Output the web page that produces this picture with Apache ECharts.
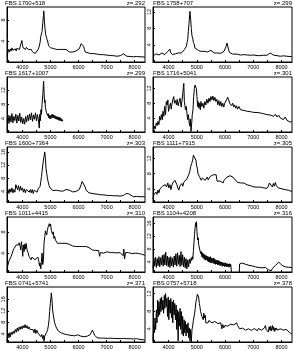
<!DOCTYPE html>
<html><head><meta charset="utf-8">
<script src="https://cdn.jsdelivr.net/npm/echarts@6/dist/echarts.min.js"></script>
<style>html,body{margin:0;padding:0;background:#fff}#c{width:294px;height:351px}</style>
</head><body><div id="c"></div><script>
const names = ["FBS 1700+518","FBS 1758+707","FBS 1617+1007","FBS 1716+5041","FBS 1600+7364","FBS 1111+7915","FBS 1011+4415","FBS 1104+4208","FBS 0741+5741","FBS 0757+5718"];
const redshifts = ["z=.292","z=.299","z=.299","z=.301","z=.303","z=.305","z=.310","z=.316","z=.371","z=.378"];
const xTickLabels = [4000,5000,6000,7000,8000];
const xMinorTicks = [3500,4000,4500,5000,5500,6000,6500,7000,7500,8000];
const xRange = [3450, 8370];
const yRanges = [[0,10.5],[-0.2,13.2],[0.2,15.7],[0.2,15.1],[0.7,17.5],[0.55,15],[0.45,10.8],[0.8,18],[1.15,20.3],[1.0,13.5]];
const yTickLabels = [[4,8],[4,8,12],[4,8,12],[4,8,12],[4,8,12,16],[4,8,12],[4,8],[4,8,12,16],[4,8,12,16],[4,8,12]];

const spec1 = [[3450,1.1],[3485,1.4],[3510,2.4],[3545,1.9],[3570,2.5],[3600,2.1],[3625,2.7],[3660,2.25],[3685,2.6],[3720,2.0],[3745,2.5],[3780,2.1],[3800,2.6],[3835,2.25],[3860,2.7],[3895,2.4],[3920,3.0],[3955,3.6],[3980,4.1],[4000,3.3],[4025,2.7],[4050,3.0],[4070,2.5],[4095,2.9],[4115,2.4],[4140,2.8],[4165,2.5],[4185,3.0],[4210,2.4],[4245,2.6],[4280,2.25],[4315,2.4],[4350,2.0],[4385,1.75],[4420,1.9],[4455,1.6],[4490,1.9],[4525,1.75],[4560,2.4],[4600,3.0],[4630,3.75],[4655,4.9],[4680,4.6],[4700,5.8],[4725,7.4],[4750,8.9],[4760,9.75],[4770,9.25],[4785,7.7],[4805,6.4],[4830,5.2],[4855,4.75],[4880,4.25],[4915,3.6],[4935,3.1],[4970,2.9],[5005,2.7],[5050,2.8],[5100,2.6],[5145,2.5],[5205,2.4],[5265,2.25],[5320,2.4],[5380,2.2],[5440,2.4],[5500,2.6],[5555,2.4],[5615,2.1],[5675,1.9],[5730,2.1],[5790,1.9],[5850,2.0],[5905,2.1],[5965,2.25],[6025,2.5],[6060,3.0],[6095,3.5],[6130,3.75],[6155,3.6],[6180,3.0],[6210,2.4],[6245,1.9],[6295,1.9],[6340,1.75],[6385,1.9],[6435,1.6],[6550,1.6],[6665,1.5],[6785,1.4],[6900,1.4],[7020,1.3],[7135,1.25],[7250,1.2],[7370,1.1],[7485,1.2],[7555,1.4],[7600,1.55],[7650,1.4],[7720,1.1],[7840,1.05],[7955,1.0],[8070,1.05],[8190,1.0],[8365,0.95]];

const spec2 = [[3450,1.2],[3485,1.6],[3520,1.2],[3555,1.8],[3590,1.45],[3625,2.0],[3660,1.5],[3695,1.8],[3730,1.35],[3765,2.0],[3800,1.6],[3835,2.15],[3870,1.6],[3905,2.0],[3940,1.75],[3975,2.4],[4010,2.65],[4050,2.95],[4070,2.15],[4105,2.4],[4140,1.6],[4175,2.0],[4210,1.35],[4245,1.8],[4280,2.15],[4315,1.6],[4350,2.0],[4385,1.75],[4420,2.15],[4455,2.0],[4490,2.4],[4525,2.0],[4560,2.8],[4600,3.2],[4630,3.6],[4655,4.55],[4680,5.35],[4700,7.2],[4725,9.2],[4750,11.6],[4760,12.15],[4770,11.2],[4785,10.0],[4805,8.0],[4830,6.15],[4855,5.6],[4880,4.55],[4915,4.0],[4935,3.2],[4970,2.95],[5005,2.8],[5050,2.65],[5100,2.8],[5145,2.4],[5205,2.25],[5265,2.4],[5320,2.15],[5380,2.25],[5440,2.4],[5500,2.65],[5555,2.25],[5615,2.0],[5675,1.85],[5730,2.0],[5790,1.75],[5850,1.9],[5905,2.15],[5965,2.4],[6000,2.8],[6035,3.6],[6070,4.4],[6095,4.0],[6120,2.95],[6155,2.15],[6200,1.85],[6260,1.75],[6320,1.6],[6435,1.7],[6550,1.5],[6665,1.6],[6785,1.5],[6900,1.45],[7020,1.5],[7135,1.35],[7250,1.35],[7370,1.45],[7485,1.45],[7555,1.75],[7600,2.0],[7650,1.6],[7720,1.45],[7840,1.35],[7955,1.2],[8070,1.3],[8190,1.2],[8365,1.1]];

const spec3 = [[3450,3.2],[3485,5.0],[3520,2.6],[3555,4.8],[3590,3.0],[3625,5.4],[3660,2.8],[3695,4.6],[3730,3.4],[3765,5.2],[3800,2.7],[3835,4.9],[3870,3.3],[3905,5.5],[3940,2.9],[3975,4.4],[4010,2.5],[4045,4.0],[4080,2.4],[4115,4.6],[4150,3.0],[4185,5.0],[4220,3.4],[4255,5.3],[4290,3.6],[4325,5.6],[4360,3.2],[4395,5.0],[4430,3.8],[4465,5.6],[4500,3.3],[4535,5.1],[4570,3.6],[4600,1.3],[4620,5.2],[4640,3.4],[4660,6.5],[4680,5.2],[4700,8.0],[4715,9.5],[4730,11.0],[4745,13.3],[4755,14.5],[4765,13.0],[4775,10.8],[4790,8.5],[4805,9.2],[4820,7.0],[4840,7.5],[4860,5.6],[4880,6.0],[4900,4.8],[4920,5.4],[4940,4.2],[4960,5.0],[4980,3.9],[5000,4.8],[5020,4.0],[5040,5.1],[5060,4.3],[5080,5.2],[5100,4.2],[5120,5.0],[5140,4.1],[5160,4.8],[5180,3.9],[5200,4.6],[5220,3.8],[5240,4.5],[5260,3.7],[5280,4.4],[5300,3.5],[5320,4.3],[5340,3.4],[5360,4.2],[5380,3.3],[5400,3.9],[5420,3.2],[5440,3.6]];

const spec4 = [[3450,0.45],[3485,1.05],[3510,1.8],[3530,1.05],[3565,2.65],[3600,1.95],[3625,3.1],[3660,2.2],[3685,4.45],[3720,3.4],[3745,4.9],[3780,3.55],[3800,5.8],[3835,4.45],[3860,7.1],[3895,4.9],[3920,8.45],[3955,7.55],[3975,8.9],[4000,5.8],[4035,7.1],[4070,8.0],[4095,6.4],[4115,7.55],[4150,8.9],[4185,9.8],[4210,8.0],[4245,8.7],[4280,7.55],[4305,9.05],[4340,7.3],[4375,8.45],[4410,9.35],[4445,6.95],[4480,8.9],[4505,10.7],[4525,12.3],[4540,13.35],[4560,8.45],[4600,6.2],[4630,7.1],[4655,4.9],[4680,3.55],[4700,4.9],[4725,3.1],[4750,1.8],[4770,3.75],[4795,0.35],[4820,2.65],[4840,4.9],[4865,6.2],[4890,9.8],[4915,12.0],[4935,12.9],[4960,13.35],[4985,12.0],[5005,9.8],[5030,7.1],[5050,8.45],[5075,6.65],[5100,8.0],[5125,6.2],[5145,8.45],[5180,7.1],[5215,8.0],[5250,6.65],[5285,8.45],[5320,7.55],[5355,9.05],[5395,8.0],[5430,9.35],[5465,8.45],[5500,9.8],[5535,8.9],[5570,9.95],[5605,8.7],[5640,9.6],[5675,8.45],[5710,9.05],[5745,7.55],[5780,8.7],[5815,7.3],[5850,8.45],[5885,7.1],[5920,8.0],[5955,6.95],[5990,8.0],[6025,8.45],[6060,9.05],[6095,9.6],[6130,8.9],[6165,8.0],[6200,8.45],[6235,7.3],[6270,8.0],[6305,6.95],[6340,7.55],[6375,6.65],[6410,7.3],[6445,6.4],[6490,7.1],[6550,6.2],[6610,6.65],[6670,6.05],[6725,6.4],[6785,5.8],[6845,6.2],[6900,5.7],[6960,6.05],[7020,5.5],[7075,5.9],[7135,5.5],[7195,5.7],[7250,5.35],[7310,5.6],[7370,5.15],[7430,5.5],[7485,4.9],[7545,5.35],[7600,4.8],[7660,5.15],[7720,4.45],[7780,5.0],[7840,4.25],[7895,4.8],[7955,4.0],[8015,4.45],[8070,3.55],[8130,4.25],[8190,3.4],[8245,3.75],[8305,2.85],[8365,3.1]];

const spec5 = [[3450,3.5],[3485,4.5],[3520,3.3],[3555,4.7],[3590,3.7],[3625,5.0],[3660,3.5],[3695,4.5],[3730,3.7],[3765,6.0],[3800,6.5],[3825,4.5],[3860,5.7],[3895,4.0],[3930,5.5],[3965,4.3],[4000,5.0],[4035,3.7],[4070,4.7],[4105,3.5],[4140,4.5],[4175,4.0],[4210,5.0],[4245,3.7],[4280,4.5],[4315,3.5],[4350,4.5],[4385,3.3],[4420,4.3],[4455,3.7],[4490,4.5],[4525,3.7],[4560,4.7],[4600,4.3],[4630,5.5],[4655,7.0],[4680,8.5],[4700,10.0],[4725,12.0],[4750,13.5],[4770,14.5],[4795,16.0],[4820,14.0],[4840,11.0],[4865,9.5],[4890,8.0],[4915,7.0],[4950,5.7],[4985,5.0],[5030,4.5],[5090,4.2],[5145,4.0],[5205,4.3],[5265,3.9],[5320,4.1],[5380,3.8],[5440,4.0],[5500,4.3],[5555,4.5],[5615,4.7],[5675,4.3],[5730,4.0],[5790,3.8],[5850,3.7],[5905,3.9],[5965,4.1],[6025,4.5],[6060,5.0],[6095,6.0],[6130,7.0],[6165,7.3],[6200,6.5],[6235,5.3],[6270,4.3],[6315,3.7],[6375,3.5],[6435,3.4],[6550,3.2],[6665,3.1],[6785,2.9],[6900,2.9],[7020,2.7],[7135,2.7],[7250,2.6],[7370,2.6],[7485,2.5],[7600,2.7],[7700,3.3],[7745,3.7],[7790,3.2],[7840,2.7],[7955,2.3],[8070,2.4],[8190,2.3],[8365,2.3]];

const spec6 = [[3450,1.4],[3485,2.55],[3520,2.1],[3555,3.15],[3590,2.55],[3625,3.65],[3660,2.95],[3695,4.0],[3745,4.25],[3790,4.7],[3835,4.25],[3885,5.1],[3930,4.5],[3975,5.55],[4010,4.25],[4050,5.1],[4085,3.8],[4115,4.85],[4150,5.55],[4185,6.0],[4225,6.25],[4260,6.6],[4295,5.1],[4330,4.25],[4365,3.65],[4400,4.7],[4435,4.25],[4470,5.4],[4505,4.7],[4540,5.7],[4575,5.4],[4610,6.0],[4645,6.6],[4680,6.85],[4715,7.7],[4750,8.55],[4785,9.85],[4820,10.7],[4855,11.55],[4880,12.85],[4900,13.3],[4925,12.4],[4950,13.1],[4970,11.55],[4995,10.0],[5020,9.4],[5040,8.1],[5065,8.55],[5090,7.25],[5125,6.85],[5160,6.25],[5195,6.85],[5230,6.4],[5265,6.85],[5300,6.25],[5335,6.6],[5370,7.1],[5405,6.4],[5440,6.85],[5475,7.25],[5510,6.85],[5545,7.45],[5580,7.7],[5615,8.15],[5650,7.45],[5685,7.7],[5720,6.0],[5755,6.25],[5790,5.55],[5825,6.05],[5860,5.7],[5895,6.0],[5930,5.55],[5965,6.25],[6000,6.0],[6035,6.6],[6070,7.1],[6105,6.85],[6140,7.25],[6175,7.45],[6210,7.95],[6245,7.7],[6280,7.1],[6315,7.25],[6350,6.4],[6385,6.25],[6420,6.0],[6455,5.7],[6490,6.0],[6550,5.55],[6610,5.4],[6665,5.55],[6725,5.1],[6785,5.05],[6845,4.7],[6900,4.85],[6960,4.5],[7020,4.5],[7075,4.7],[7135,4.45],[7195,4.6],[7250,4.45],[7310,4.6],[7370,4.25],[7430,4.45],[7485,4.15],[7535,4.7],[7570,5.55],[7605,5.1],[7640,5.7],[7675,4.5],[7710,5.4],[7745,4.7],[7780,5.7],[7815,4.85],[7850,5.1],[7885,4.25],[7920,4.7],[7955,4.45],[8015,4.0],[8070,4.25],[8130,3.8],[8190,4.1],[8245,3.65],[8305,3.8],[8365,3.3]];

const spec7 = [[3450,0.6],[3475,1.55],[3500,2.15],[3530,2.65],[3565,2.9],[3600,3.4],[3635,4.0],[3670,4.5],[3705,4.9],[3745,5.25],[3780,5.55],[3815,5.35],[3835,5.85],[3860,5.55],[3885,5.95],[3920,5.25],[3940,4.6],[3965,6.15],[3990,5.1],[4010,3.4],[4035,5.55],[4060,4.3],[4085,5.7],[4105,4.75],[4130,5.85],[4165,4.6],[4200,4.1],[4235,3.4],[4270,3.1],[4305,2.75],[4340,3.25],[4375,3.5],[4410,3.1],[4445,2.75],[4480,3.1],[4515,2.9],[4550,3.25],[4585,2.45],[4610,1.55],[4630,2.15],[4655,1.05],[4680,0.8],[4700,4.0],[4725,1.85],[4750,2.75],[4770,5.85],[4795,7.1],[4820,8.2],[4840,8.45],[4865,7.4],[4890,8.3],[4915,8.9],[4935,9.25],[4960,9.55],[4985,9.05],[5005,9.45],[5030,8.3],[5055,8.6],[5075,7.55],[5100,8.0],[5125,6.75],[5145,7.2],[5180,6.45],[5215,6.15],[5250,5.85],[5285,5.95],[5335,5.85],[5380,6.05],[5440,5.85],[5500,5.65],[5555,5.85],[5615,5.55],[5675,5.65],[5730,5.5],[5790,5.35],[5850,5.5],[5905,5.25],[5965,5.35],[6025,5.25],[6080,5.1],[6140,5.25],[6200,5.05],[6260,5.25],[6315,4.9],[6375,5.05],[6435,4.75],[6490,4.6],[6550,4.75],[6610,4.5],[6665,4.3],[6715,4.5],[6750,3.4],[6785,4.1],[6845,4.25],[6900,4.0],[6960,4.2],[7020,4.25],[7075,4.0],[7135,4.1],[7195,3.95],[7250,4.1],[7310,3.9],[7370,4.05],[7430,3.9],[7485,4.1],[7545,3.9],[7590,3.5],[7615,4.75],[7640,2.9],[7675,4.1],[7720,3.9],[7780,4.1],[7840,4.0],[7895,3.9],[7955,3.7],[8015,4.0],[8070,3.75],[8130,3.95],[8190,3.7],[8245,3.8],[8305,3.5],[8365,3.6]];

const spec8 = [[3450,2.0],[3480,5.2],[3510,2.6],[3540,5.5],[3570,2.2],[3600,5.0],[3630,2.8],[3660,5.6],[3690,2.4],[3720,5.3],[3750,3.0],[3780,6.0],[3810,2.6],[3840,6.3],[3870,3.0],[3900,7.0],[3930,2.8],[3960,5.8],[3990,2.5],[4020,5.4],[4050,2.2],[4080,5.6],[4110,2.7],[4140,5.2],[4170,2.3],[4200,5.8],[4230,3.0],[4260,6.5],[4290,2.6],[4320,6.8],[4350,3.2],[4380,6.0],[4410,2.5],[4440,7.2],[4470,2.9],[4500,6.2],[4530,2.4],[4560,5.5],[4590,2.1],[4620,5.0],[4650,1.8],[4680,4.6],[4710,2.4],[4740,4.8],[4770,3.5],[4800,5.2],[4820,4.4],[4840,5.6],[4860,4.8],[4880,7.5],[4900,9.9],[4920,12.5],[4940,14.8],[4960,16.2],[4975,15.0],[4990,16.5],[5005,13.5],[5020,12.0],[5035,10.8],[5050,11.5],[5065,9.5],[5080,10.0],[5100,8.0],[5120,8.5],[5140,6.5],[5160,7.2],[5180,5.6],[5200,6.8],[5220,5.2],[5240,6.5],[5260,4.8],[5280,6.2],[5300,4.5],[5320,6.0],[5340,4.6],[5360,5.8],[5380,4.2],[5400,5.6],[5420,4.0],[5440,5.4],[5460,3.8],[5480,5.6],[5500,3.6],[5520,5.2],[5540,3.8],[5560,5.0],[5580,3.5],[5600,5.2],[5620,3.4],[5640,4.8],[5660,3.2],[5680,4.6],[5700,3.3],[5720,4.5],[5740,3.0],[5760,4.4],[5780,3.1],[5800,4.2],[5820,2.8],[5840,4.0],[5860,2.9],[5880,3.9],[5900,2.6],[5920,3.8],[5940,2.7],[5960,3.6],[5980,2.5],[6000,3.7],[6020,2.6],[6040,3.5],[6060,2.4],[6080,3.4],[6100,2.5],[6120,3.3],[6140,2.3],[6160,3.4],[6180,2.4],[6200,3.2],[6220,2.6],[6235,0.0],[6500,0.0],[6515,3.3],[6550,3.8],[6600,3.6],[6670,3.5],[6730,3.2],[6785,3.1],[6845,2.9],[6900,2.8],[6960,2.7],[7020,2.6],[7080,2.4],[7135,2.3],[7195,2.2],[7250,2.1],[7310,2.1],[7370,2.0],[7430,2.2],[7490,1.9],[7530,1.5],[7560,1.0],[7600,1.8],[7640,1.2],[7680,2.0],[7720,2.4],[7780,2.8],[7840,3.2],[7900,3.9],[7955,3.5],[8015,2.9],[8070,2.5],[8130,2.4],[8190,2.3],[8245,2.3],[8305,2.2],[8365,2.2]];

const spec9 = [[3450,1.5],[3475,3.0],[3500,4.1],[3520,2.6],[3545,4.35],[3570,3.0],[3600,4.55],[3635,3.75],[3670,4.9],[3705,4.1],[3745,5.5],[3780,4.55],[3815,6.05],[3850,4.9],[3885,6.4],[3920,5.5],[3955,6.6],[3990,5.7],[4025,6.85],[4060,6.05],[4095,7.2],[4130,6.05],[4165,6.85],[4200,5.7],[4235,6.4],[4270,5.5],[4305,6.05],[4340,4.9],[4375,5.5],[4410,4.35],[4445,5.7],[4480,4.1],[4515,5.25],[4550,4.35],[4585,3.75],[4620,4.55],[4655,3.0],[4690,3.75],[4725,2.3],[4750,3.45],[4770,1.4],[4795,3.2],[4830,3.75],[4865,4.55],[4900,5.5],[4925,6.85],[4950,8.9],[4970,11.75],[4995,14.6],[5020,16.9],[5030,18.25],[5040,17.8],[5055,15.75],[5075,12.3],[5100,10.6],[5125,9.15],[5145,8.0],[5180,6.85],[5215,6.05],[5250,5.5],[5285,4.9],[5335,4.55],[5380,4.35],[5440,4.1],[5500,3.9],[5555,3.75],[5615,3.65],[5675,3.65],[5730,3.45],[5790,3.55],[5850,3.3],[5905,3.45],[5965,3.65],[6025,3.3],[6080,3.2],[6140,3.1],[6200,3.0],[6260,3.1],[6315,3.2],[6375,3.45],[6420,3.75],[6455,4.55],[6490,5.25],[6515,5.5],[6540,4.35],[6575,3.45],[6620,2.85],[6665,2.65],[6785,2.5],[6900,2.5],[7020,2.4],[7135,2.5],[7250,2.4],[7370,2.4],[7485,2.3],[7600,2.4],[7720,2.3],[7840,2.3],[7955,2.2],[8070,2.3],[8190,2.05],[8305,1.95],[8365,1.7]];

const spec10 = [[3450,1.25],[3475,4.6],[3500,3.1],[3520,6.45],[3545,3.85],[3570,8.3],[3590,5.35],[3615,10.5],[3640,6.8],[3660,10.15],[3685,7.2],[3710,10.9],[3730,7.9],[3755,11.25],[3780,8.3],[3800,10.5],[3825,7.55],[3850,11.6],[3870,8.65],[3895,12.0],[3920,9.05],[3940,10.9],[3965,6.8],[3990,11.25],[4010,6.05],[4035,10.5],[4060,7.55],[4080,10.9],[4105,6.45],[4130,10.15],[4150,5.35],[4175,10.5],[4200,7.2],[4220,9.75],[4245,6.05],[4270,9.4],[4290,3.85],[4315,8.3],[4340,1.25],[4360,7.9],[4385,4.6],[4410,8.65],[4430,3.85],[4455,7.9],[4480,2.75],[4500,6.8],[4525,2.35],[4550,6.05],[4570,3.1],[4595,5.7],[4620,2.35],[4640,4.95],[4665,3.1],[4690,5.35],[4710,2.0],[4735,4.2],[4760,1.25],[4780,3.85],[4805,0.9],[4830,3.85],[4855,4.6],[4875,5.7],[4900,5.35],[4925,7.55],[4945,8.65],[4970,10.15],[4995,10.9],[5020,11.85],[5040,12.15],[5065,11.25],[5090,9.75],[5110,9.05],[5135,7.9],[5160,7.55],[5180,6.8],[5205,7.2],[5230,6.05],[5250,7.55],[5275,6.45],[5300,7.05],[5320,5.35],[5355,5.7],[5395,5.35],[5430,5.9],[5465,5.5],[5500,5.8],[5535,5.35],[5570,5.7],[5605,5.2],[5640,5.65],[5675,5.35],[5710,5.8],[5745,5.2],[5780,5.5],[5815,4.75],[5850,5.35],[5885,4.0],[5920,4.95],[5955,4.2],[5990,4.75],[6025,4.45],[6060,4.9],[6095,4.6],[6130,4.95],[6165,4.75],[6200,5.05],[6235,4.6],[6270,5.1],[6305,4.9],[6340,5.35],[6375,4.95],[6410,5.35],[6445,4.75],[6480,5.05],[6515,4.0],[6550,4.2],[6585,3.85],[6620,4.15],[6655,3.7],[6690,4.05],[6725,3.7],[6760,4.0],[6795,3.65],[6830,4.0],[6865,3.7],[6900,4.05],[6935,3.65],[6970,3.9],[7005,3.7],[7040,4.05],[7075,3.65],[7110,4.0],[7145,3.55],[7180,4.05],[7215,3.7],[7250,4.15],[7290,3.7],[7325,4.0],[7360,3.65],[7395,4.2],[7430,4.75],[7455,3.85],[7490,3.5],[7510,4.2],[7535,3.25],[7560,4.45],[7585,3.7],[7605,4.6],[7630,3.5],[7655,4.2],[7675,4.75],[7700,3.7],[7720,4.45],[7745,3.4],[7770,4.15],[7795,3.65],[7815,4.2],[7850,3.7],[7885,4.05],[7920,3.65],[7955,4.0],[7990,3.55],[8025,3.9],[8060,3.7],[8095,4.0],[8130,3.5],[8165,3.85],[8200,3.4],[8235,3.85],[8270,3.25],[8305,3.5],[8340,2.95],[8365,2.75]];

const spectra = [spec1,spec2,spec3,spec4,spec5,spec6,spec7,spec8,spec9,spec10];

const colLeft = [5, 153], colWidth = [140, 139], rowTop = [7, 77, 147, 217, 287], panelH = 55;
const font = 'Liberation Sans';
const grids = [], xAxes = [], yAxes = [], series = [], titles = [];
for (let i = 0; i < 10; i++) {
  const c = i % 2, r = Math.floor(i / 2);
  grids.push({left: colLeft[c], top: rowTop[r], width: colWidth[c], height: panelH,
    show: true, borderColor: '#000', borderWidth: 1, backgroundColor: 'transparent', containLabel: false});
  xAxes.push({type: 'value', gridIndex: i, min: xRange[0], max: xRange[1],
    axisLine: {show: true, onZero: false, lineStyle: {color: '#000', width: 1}},
    axisTick: {show: true, inside: true, length: 2, customValues: xMinorTicks, lineStyle: {color: '#000', width: 1}},
    axisLabel: {show: true, customValues: xTickLabels, fontSize: 5.5, color: '#000', margin: 2, fontFamily: font,
      formatter: v => String(v)},
    splitLine: {show: false}});
  yAxes.push({type: 'value', gridIndex: i, min: yRanges[i][0], max: yRanges[i][1],
    axisLine: {show: true, onZero: false, lineStyle: {color: '#000', width: 1}},
    axisTick: {show: true, inside: true, length: 2, customValues: yTickLabels[i], lineStyle: {color: '#000', width: 1}},
    axisLabel: {show: true, customValues: yTickLabels[i], rotate: 90, fontSize: 5.5, color: '#000', margin: 1, fontFamily: font,
      formatter: v => String(v)},
    splitLine: {show: false}});
  series.push({type: 'line', xAxisIndex: i, yAxisIndex: i, data: spectra[i], showSymbol: false, symbol: 'none',
    clip: true, lineStyle: {color: '#000', width: 1}, animation: false, silent: true});
  titles.push({text: names[i], left: colLeft[c], top: rowTop[r] - 7, padding: 0,
    textStyle: {fontSize: 6, fontWeight: 'normal', color: '#000', fontFamily: font}});
  titles.push({text: redshifts[i], right: 294 - colLeft[c] - colWidth[c], top: rowTop[r] - 7, padding: 0,
    textStyle: {fontSize: 6, fontWeight: 'normal', color: '#000', fontFamily: font}});
}
const chart = echarts.init(document.getElementById('c'), null, {renderer: 'canvas'});
chart.setOption({animation: false, backgroundColor: '#fff', title: titles, grid: grids, xAxis: xAxes, yAxis: yAxes, series: series});
</script></body></html>
